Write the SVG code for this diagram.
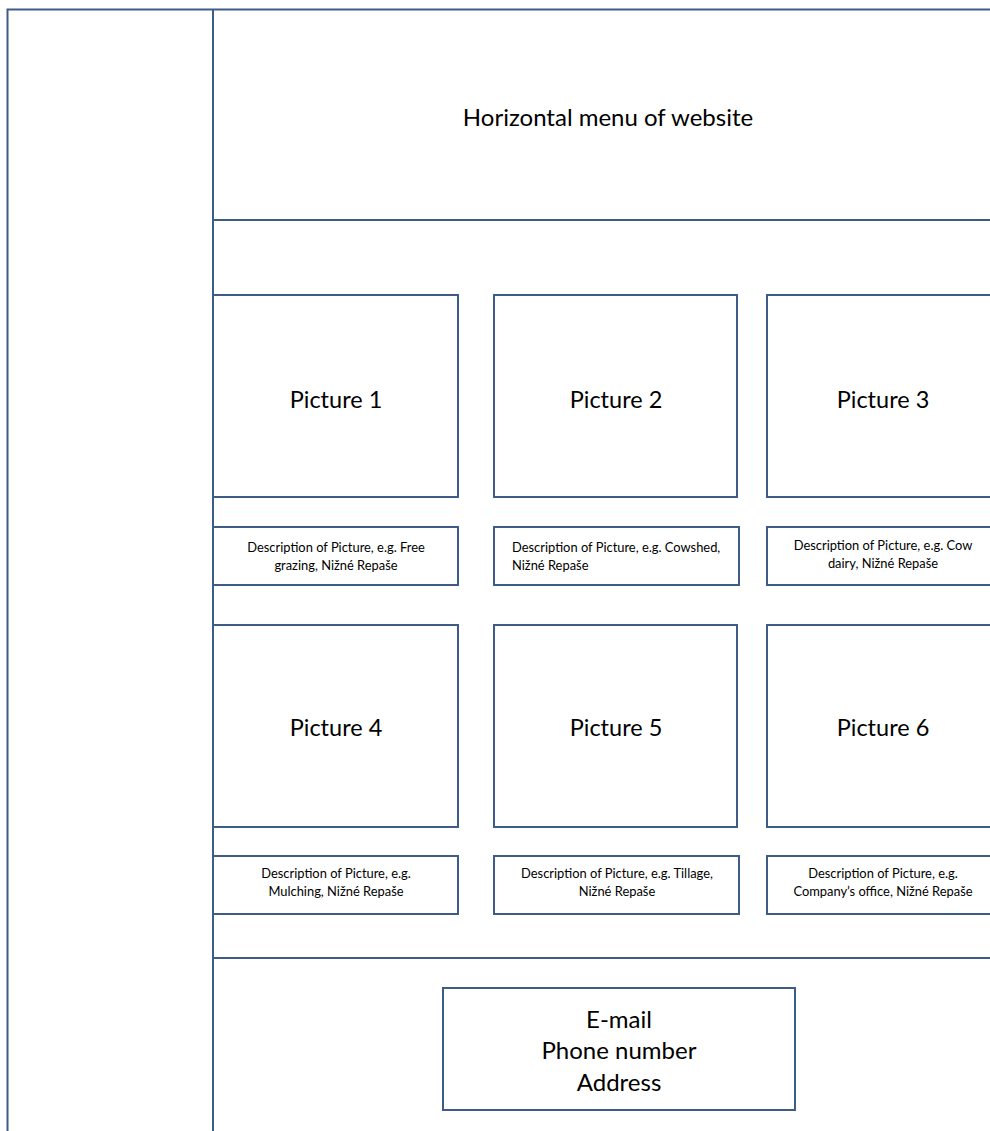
<svg xmlns="http://www.w3.org/2000/svg" width="990" height="1131" viewBox="0 0 990 1131">
<style>
.b{fill:#ffffff;stroke:#3d5d88;stroke-width:2}
.l{stroke:#3d5d88;stroke-width:2;fill:none}
.t{font-family:Lato,"Open Sans",sans-serif;fill:#000;text-anchor:middle}
.big{font-size:24px}
.pic{font-size:23.5px}
.d{font-size:12.9px}
.c{font-size:24px}
</style>
<rect width="990" height="1131" fill="#ffffff"/>
<g id="frame">
<rect class="b" x="7.5" y="9.5" width="1010" height="1140"/>
<line class="l" x1="213" y1="9.5" x2="213" y2="1131"/>
</g>
<g id="header">
<line class="l" x1="213" y1="220" x2="1000" y2="220"/>
<text class="t big" x="608" y="126">Horizontal menu of website</text>
</g>
<g id="picture1"><rect class="b" x="213" y="295" width="245" height="202"/><text class="t pic" x="336" y="408">Picture 1</text></g>
<g id="picture2"><rect class="b" x="494" y="295" width="243" height="202"/><text class="t pic" x="616" y="408">Picture 2</text></g>
<g id="picture3"><rect class="b" x="767" y="295" width="240" height="202"/><text class="t pic" x="883" y="408">Picture 3</text></g>
<g id="desc1"><rect class="b" x="213" y="527" width="245" height="58"/><text class="t d" x="336" y="552">Description of Picture, e.g. Free</text><text class="t d" x="336" y="570">grazing, Nižné Repaše</text></g>
<g id="desc2"><rect class="b" x="494" y="527" width="245" height="58"/><text class="t d" x="512" y="552" style="text-anchor:start">Description of Picture, e.g. Cowshed,</text><text class="t d" x="512" y="570" style="text-anchor:start">Nižné Repaše</text></g>
<g id="desc3"><rect class="b" x="767" y="527" width="240" height="58"/><text class="t d" x="883" y="550">Description of Picture, e.g. Cow</text><text class="t d" x="883" y="568">dairy, Nižné Repaše</text></g>
<g id="picture4"><rect class="b" x="213" y="625" width="245" height="202"/><text class="t pic" x="336" y="736">Picture 4</text></g>
<g id="picture5"><rect class="b" x="494" y="625" width="243" height="202"/><text class="t pic" x="616" y="736">Picture 5</text></g>
<g id="picture6"><rect class="b" x="767" y="625" width="240" height="202"/><text class="t pic" x="883" y="736">Picture 6</text></g>
<g id="desc4"><rect class="b" x="213" y="856" width="245" height="58"/><text class="t d" x="336" y="878">Description of Picture, e.g.</text><text class="t d" x="336" y="896">Mulching, Nižné Repaše</text></g>
<g id="desc5"><rect class="b" x="494" y="856" width="245" height="58"/><text class="t d" x="617" y="878">Description of Picture, e.g. Tillage,</text><text class="t d" x="617" y="896">Nižné Repaše</text></g>
<g id="desc6"><rect class="b" x="767" y="856" width="240" height="58"/><text class="t d" x="883" y="878">Description of Picture, e.g.</text><text class="t d" x="883" y="896">Company’s office, Nižné Repaše</text></g>
<g id="footer"><line class="l" x1="213" y1="958" x2="1000" y2="958"/></g>
<g id="contact"><rect class="b" x="443" y="988" width="352" height="122"/>
<text class="t c" x="619" y="1028">E-mail</text>
<text class="t c" x="619" y="1059">Phone number</text>
<text class="t c" x="619" y="1091">Address</text></g>
<g id="connectors"/>
</svg>
